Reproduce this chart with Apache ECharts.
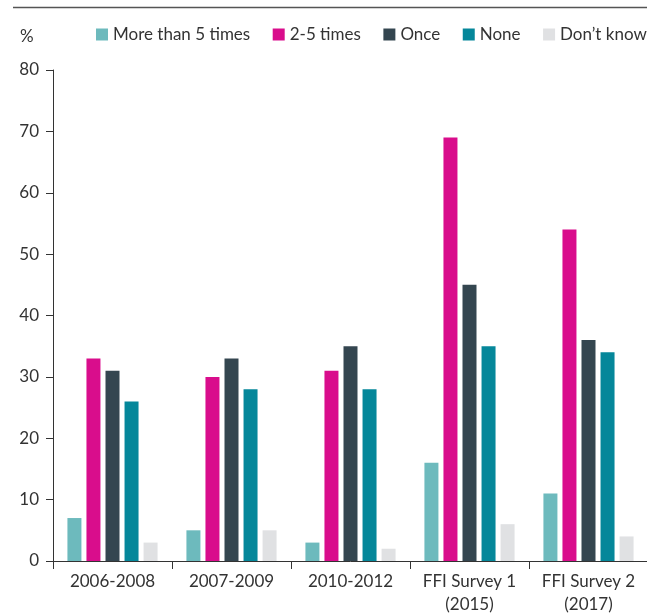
<!DOCTYPE html>
<html>
<head>
<meta charset="utf-8">
<script src="https://cdn.jsdelivr.net/npm/echarts@6/dist/echarts.min.js"></script>
<style>
  html, body { margin: 0; padding: 0; background: #fff; }
  #chart { width: 647px; height: 614px; }
</style>
</head>
<body>
<div id="chart"></div>
<script>
// Survey periods on the category axis
const categories = ['2006-2008', '2007-2009', '2010-2012', 'FFI Survey 1\n(2015)', 'FFI Survey 2\n(2017)'];

// Share of respondents (%) for each answer
const moreThan5 = [7, 5, 3, 16, 11];
const twoToFive = [33, 30, 31, 69, 54];
const once = [31, 33, 35, 45, 36];
const none = [26, 28, 28, 35, 34];
const dontKnow = [3, 5, 2, 6, 4];

const yTicks = [0, 10, 20, 30, 40, 50, 60, 70, 80];

const seriesDefs = [
  { name: 'More than 5 times', data: moreThan5, color: '#6dbabd' },
  { name: '2-5 times', data: twoToFive, color: '#d90d8c' },
  { name: 'Once', data: once, color: '#344650' },
  { name: 'None', data: none, color: '#05879a' },
  { name: 'Don\u2019t know', data: dontKnow, color: '#e0e1e3' }
];

const FONT = 'Lato, sans-serif';
const TEXT = '#333333';

const chart = echarts.init(document.getElementById('chart'), null, { renderer: 'canvas' });

chart.setOption({
  animation: false,
  textStyle: { fontFamily: FONT },
  graphic: [
    {
      type: 'line',
      shape: { x1: 13, y1: 7.5, x2: 647, y2: 7.5 },
      style: { stroke: '#555', lineWidth: 1.5 }
    },
    {
      type: 'text',
      left: 20, top: 28,
      style: { text: '%', fill: TEXT, font: '17px ' + FONT }
    }
  ],
  legend: {
    left: 96,
    top: 26,
    width: 700,
    padding: 0,
    itemWidth: 12,
    itemHeight: 12,
    itemGap: 22.5,
    icon: 'rect',
    textStyle: { color: TEXT, fontSize: 17, fontFamily: FONT },
    data: seriesDefs.map(s => s.name)
  },
  grid: { left: 53, right: -1, top: 70, bottom: 53, containLabel: false, outerBoundsMode: 'none' },
  xAxis: {
    type: 'category',
    data: categories,
    axisLine: { show: true, lineStyle: { color: TEXT, width: 1 } },
    axisTick: { show: true, interval: 0, length: 8, lineStyle: { color: TEXT } },
    axisLabel: { interval: 0, color: TEXT, fontSize: 17, fontFamily: FONT, margin: 9, lineHeight: 23 }
  },
  yAxis: {
    type: 'value',
    min: yTicks[0],
    max: yTicks[yTicks.length - 1],
    interval: 10,
    axisLine: { show: true, lineStyle: { color: TEXT, width: 1 } },
    axisTick: { show: true, length: 7, lineStyle: { color: TEXT } },
    axisLabel: { color: TEXT, fontSize: 17, fontFamily: FONT, margin: 14 },
    splitLine: { show: false }
  },
  series: seriesDefs.map(s => ({
    name: s.name,
    type: 'bar',
    data: s.data,
    barWidth: 14,
    barGap: '36%',
    itemStyle: { color: s.color }
  }))
});
</script>
</body>
</html>
